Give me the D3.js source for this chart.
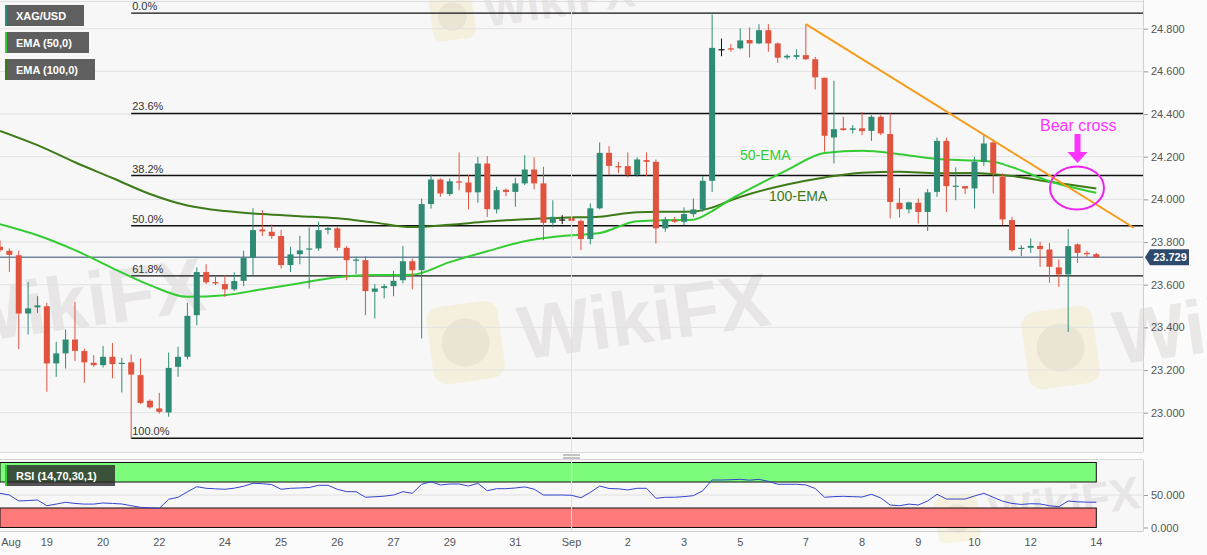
<!DOCTYPE html>
<html>
<head>
<meta charset="utf-8">
<script src="https://cdn.jsdelivr.net/npm/d3@7"></script>
<style>
body { margin: 0; background: #fff; }
svg text { font-family: "Liberation Sans", Arial, sans-serif; }
</style>
</head>
<body>
<svg id="chart" width="1207" height="555"></svg>
<script>
// XAG/USD 4H candles, [open, high, low, close]
const candles = [
	[23.778, 23.808, 23.753, 23.762], [23.759, 23.770, 23.660, 23.740], [23.738, 23.759, 23.298, 23.465],
	[23.465, 23.613, 23.367, 23.489], [23.494, 23.546, 23.468, 23.503], [23.499, 23.515, 23.098, 23.231],
	[23.231, 23.332, 23.168, 23.278], [23.278, 23.390, 23.207, 23.343], [23.343, 23.520, 23.242, 23.290],
	[23.289, 23.301, 23.140, 23.236], [23.234, 23.270, 23.215, 23.223], [23.223, 23.313, 23.212, 23.262],
	[23.262, 23.327, 23.161, 23.228], [23.229, 23.257, 23.095, 23.234], [23.236, 23.273, 22.879, 23.179],
	[23.176, 23.254, 23.040, 23.046], [23.056, 23.062, 23.019, 23.025], [23.020, 23.093, 22.996, 23.004],
	[23.001, 23.282, 22.981, 23.210], [23.215, 23.309, 23.168, 23.262], [23.262, 23.515, 23.250, 23.454],
	[23.457, 23.681, 23.410, 23.659], [23.659, 23.696, 23.603, 23.611], [23.612, 23.642, 23.598, 23.606],
	[23.603, 23.645, 23.543, 23.578], [23.578, 23.658, 23.571, 23.617], [23.618, 23.759, 23.593, 23.725],
	[23.726, 23.958, 23.642, 23.856], [23.859, 23.950, 23.828, 23.850], [23.848, 23.883, 23.815, 23.828],
	[23.828, 23.856, 23.676, 23.692], [23.692, 23.778, 23.660, 23.742], [23.743, 23.829, 23.696, 23.761],
	[23.765, 23.868, 23.582, 23.770], [23.770, 23.895, 23.759, 23.856], [23.857, 23.871, 23.836, 23.865],
	[23.864, 23.871, 23.759, 23.773], [23.773, 23.781, 23.621, 23.715], [23.712, 23.731, 23.650, 23.718],
	[23.715, 23.734, 23.457, 23.570], [23.567, 23.603, 23.442, 23.582], [23.584, 23.603, 23.536, 23.593],
	[23.593, 23.665, 23.546, 23.618], [23.621, 23.782, 23.606, 23.710], [23.710, 23.723, 23.578, 23.668],
	[23.668, 24.004, 23.348, 23.978], [23.978, 24.118, 23.957, 24.093], [24.093, 24.098, 24.012, 24.028],
	[24.025, 24.098, 24.015, 24.085], [24.084, 24.220, 24.043, 24.079], [24.079, 24.114, 23.953, 24.033],
	[24.033, 24.199, 23.984, 24.168], [24.168, 24.203, 23.918, 23.954], [23.953, 24.059, 23.934, 24.043],
	[24.045, 24.051, 24.015, 24.035], [24.035, 24.101, 23.965, 24.075], [24.075, 24.207, 24.067, 24.140],
	[24.140, 24.197, 24.047, 24.075], [24.075, 24.153, 23.809, 23.890], [23.890, 23.996, 23.868, 23.918],
	[23.906, 23.926, 23.884, 23.906], [23.913, 23.918, 23.817, 23.899], [23.899, 23.906, 23.762, 23.814],
	[23.814, 23.981, 23.789, 23.958], [23.958, 24.267, 23.953, 24.218], [24.218, 24.250, 24.114, 24.157],
	[24.156, 24.176, 24.124, 24.150], [24.156, 24.220, 24.103, 24.114], [24.114, 24.197, 24.106, 24.187],
	[24.184, 24.220, 24.109, 24.176], [24.176, 24.187, 23.793, 23.864], [23.864, 23.918, 23.848, 23.906],
	[23.903, 23.918, 23.890, 23.895], [23.895, 23.962, 23.879, 23.931], [23.931, 24.004, 23.918, 23.953],
	[23.953, 24.109, 23.942, 24.087], [24.087, 24.867, 24.035, 24.710], [24.704, 24.754, 24.671, 24.704],
	[24.708, 24.728, 24.692, 24.703], [24.708, 24.801, 24.703, 24.745], [24.747, 24.806, 24.665, 24.731],
	[24.731, 24.821, 24.728, 24.793], [24.793, 24.821, 24.692, 24.731], [24.731, 24.736, 24.640, 24.664],
	[24.665, 24.681, 24.657, 24.673], [24.668, 24.703, 24.656, 24.676], [24.676, 24.821, 24.653, 24.657],
	[24.657, 24.668, 24.515, 24.572], [24.570, 24.570, 24.223, 24.298], [24.290, 24.556, 24.168, 24.329],
	[24.333, 24.387, 24.321, 24.325], [24.326, 24.348, 24.309, 24.333], [24.333, 24.410, 24.301, 24.320],
	[24.321, 24.395, 24.274, 24.387], [24.387, 24.395, 24.301, 24.309], [24.306, 24.403, 23.911, 23.988],
	[23.984, 24.054, 23.915, 23.954], [23.953, 23.989, 23.934, 23.986], [23.984, 24.004, 23.887, 23.941],
	[23.941, 24.048, 23.852, 24.033], [24.035, 24.290, 24.012, 24.274], [24.274, 24.290, 23.941, 24.062],
	[24.062, 24.150, 23.996, 24.064], [24.062, 24.062, 24.025, 24.051], [24.051, 24.199, 23.957, 24.176],
	[24.176, 24.301, 24.156, 24.262], [24.267, 24.281, 24.028, 24.122], [24.106, 24.122, 23.879, 23.906],
	[23.903, 23.918, 23.754, 23.762], [23.768, 23.785, 23.734, 23.773], [23.773, 23.817, 23.749, 23.782],
	[23.782, 23.801, 23.684, 23.767], [23.765, 23.796, 23.609, 23.684], [23.681, 23.718, 23.590, 23.648],
	[23.648, 23.861, 23.379, 23.781], [23.789, 23.793, 23.702, 23.749], [23.749, 23.759, 23.731, 23.743],
	[23.743, 23.749, 23.725, 23.729]
];

// EMA readings, [candle index, value]
const ema50 = [
	[0, 23.884], [4, 23.832], [8, 23.762], [12, 23.678], [16, 23.598], [20, 23.543], [24, 23.551],
	[28, 23.579], [32, 23.607], [36, 23.635], [40, 23.645], [44, 23.647], [48, 23.706], [52, 23.757],
	[56, 23.804], [60, 23.828], [64, 23.842], [68, 23.898], [72, 23.903], [74, 23.905], [76, 23.945],
	[78, 24.001], [80, 24.048], [84, 24.137], [88, 24.217], [92, 24.228], [96, 24.212], [100, 24.189],
	[104, 24.182], [106, 24.176], [108, 24.151], [112, 24.085], [117, 24.031]
];
const ema100 = [
	[0, 24.321], [4, 24.254], [8, 24.174], [12, 24.100], [16, 24.025], [20, 23.971], [24, 23.945],
	[28, 23.931], [32, 23.921], [36, 23.911], [40, 23.891], [44, 23.870], [48, 23.881], [52, 23.896],
	[56, 23.907], [60, 23.914], [64, 23.919], [68, 23.940], [72, 23.942], [74, 23.943], [76, 23.962],
	[78, 23.996], [80, 24.025], [84, 24.070], [88, 24.103], [92, 24.125], [96, 24.130], [100, 24.123],
	[104, 24.124], [108, 24.109], [112, 24.083], [117, 24.051]
];

// RSI(14) per candle
const rsi = [
	52.6, 50, 40.8, 41.5, 42.3, 33.5, 36, 38.8, 37, 36, 36, 37.7, 37, 36.2, 33.5, 31, 30.2, 29.5,
	43.4, 46.5, 55, 62.8, 60.3, 59.5, 58.8, 60.5, 63.5, 68, 67.5, 66, 58.8, 60.3, 60.8, 61.5, 64.9, 64.9,
	58.8, 55.1, 55.1, 46.5, 47.3, 48.2, 50, 55.1, 52.6, 66.5, 70.5, 65.4, 66.9, 66.9, 63.8, 68, 56.6, 59.7,
	59.7, 60.8, 62.5, 59, 50, 50, 50, 49.5, 45.8, 54, 63.8, 60, 59.5, 57.8, 60.3, 60.3, 44.9, 46.5,
	46.5, 47.5, 49, 56.6, 73.1, 73.1, 73.5, 74.1, 72.8, 74.1, 71, 66.5, 66.5, 66.5, 65.5, 60, 46.5, 47.5,
	48, 47.5, 46.9, 51.1, 45.5, 34.6, 33.5, 36, 34.6, 40.8, 51.1, 43.8, 43.8, 43.8, 48.5, 52.6, 46.5, 40.5,
	37, 35.5, 36.6, 36.2, 33.5, 32, 40.8, 39.5, 39, 38.8
];

const fibHigh = 24.873;
const fibLow = 22.880;
const fibStartIndex = 14;
const fibRatios = [0, 0.236, 0.382, 0.5, 0.618, 1];
const fibLabels = ['0.0%', '23.6%', '38.2%', '50.0%', '61.8%', '100.0%'];
const lastPrice = 23.729;
const trendLine = [[86, 24.821], [121, 23.867]];
const priceTicks = [23.0, 23.2, 23.4, 23.6, 23.8, 24.0, 24.2, 24.4, 24.6, 24.8];
const rsiTicks = [0, 50];
const dayTicks = [
	[-1, 'Aug'], [5, '19'], [11, '20'], [17, '22'], [24, '24'], [30, '25'], [36, '26'], [42, '27'],
	[48, '29'], [55, '31'], [61, 'Sep'], [67, '2'], [73, '3'], [79, '5'], [86, '7'], [92, '8'],
	[98, '9'], [104, '10'], [110, '12'], [117, '14']
];
const monthStart = 61;
const legendItems = [
	{ label: 'XAG/USD', color: '#2e8b7a', w: 79 },
	{ label: 'EMA (50,0)', color: '#33cc33', w: 84 },
	{ label: 'EMA (100,0)', color: '#3d7a18', w: 90 }
];

// layout
const W = 1207;
const axisX = 1143;
const mainTop = 0, mainBottom = 452;
const rsiTop = 460, rsiBottom = 531;
const upColor = '#2f8b74';
const downColor = '#e0533f';

const svg = d3.select('#chart');

const x = d3.scaleLinear().domain([0, candles.length - 1]).range([0, 1096.3]);
const y = d3.scaleLinear().domain([23, 24.8]).range([412.7, 28.7]);
const yR = d3.scaleLinear().domain([0, 100]).range([527.5, 462.5]);

// backgrounds
svg.append('rect').attr('width', W).attr('height', 555).attr('fill', '#fbfbfb');
svg.append('rect').attr('x', 0).attr('y', mainTop).attr('width', axisX).attr('height', mainBottom - mainTop).attr('fill', '#f7f7f7');
svg.append('rect').attr('x', 0).attr('y', rsiTop).attr('width', axisX).attr('height', rsiBottom - rsiTop).attr('fill', '#f7f7f7');

svg.append('clipPath').attr('id', 'clipMain').append('rect').attr('width', axisX).attr('height', mainBottom);
svg.append('clipPath').attr('id', 'clipRsi').append('rect').attr('y', rsiTop).attr('width', axisX).attr('height', rsiBottom - rsiTop);

// watermarks
const marks = [
	{ x: 470, y: 345, s: 1 },
	{ x: 1065, y: 350, s: 1 },
	{ x: -95, y: 330, s: 1 },
	{ x: 455, y: 18, s: 0.6 },
	{ x: 960, y: 520, s: 0.6 }
];
const wm = svg.append('g').attr('clip-path', 'url(#clipAll)');
marks.forEach((m) => {
	const g = wm.append('g').attr('transform', `translate(${m.x},${m.y}) rotate(-8) scale(${m.s})`);
	g.append('rect').attr('x', -40).attr('y', -42).attr('width', 72).attr('height', 78).attr('rx', 14)
		.attr('fill', '#f3d98a').attr('opacity', 0.22);
	g.append('circle').attr('cx', -4).attr('cy', -3).attr('r', 24).attr('fill', '#bdb6b0').attr('opacity', 0.2);
	g.append('text').attr('x', 50).attr('y', 22).attr('font-size', 76).attr('font-weight', 'bold')
		.attr('fill', '#cfc8c8').attr('opacity', 0.38).text('WikiFX');
});

// grid
const mainG = svg.append('g').attr('clip-path', 'url(#clipMain)');
mainG.selectAll('.grid').data(priceTicks).enter().append('line')
	.attr('x1', 0).attr('x2', axisX).attr('y1', (d) => y(d)).attr('y2', (d) => y(d))
	.attr('stroke', '#e2e2e2').attr('stroke-width', 1);
svg.append('line').attr('x1', x(monthStart)).attr('x2', x(monthStart)).attr('y1', 0).attr('y2', mainBottom)
	.attr('stroke', '#e0e0e0');
svg.append('line').attr('x1', 0).attr('x2', axisX).attr('y1', 1.5).attr('y2', 1.5).attr('stroke', '#dedede');

// fibonacci retracement
const fibs = fibRatios.map((r, i) => ({ v: fibHigh - r * (fibHigh - fibLow), label: fibLabels[i] }));
mainG.selectAll('.fib').data(fibs).enter().append('line')
	.attr('x1', x(fibStartIndex)).attr('x2', axisX).attr('y1', (d) => y(d.v)).attr('y2', (d) => y(d.v))
	.attr('stroke', '#111').attr('stroke-width', 1.4);
mainG.selectAll('.fibText').data(fibs).enter().append('text')
	.attr('x', x(fibStartIndex) + 1).attr('y', (d) => y(d.v) - 3)
	.attr('font-size', 11).attr('fill', '#333').text((d) => d.label);

// last price line
mainG.append('line').attr('x1', 0).attr('x2', axisX).attr('y1', y(lastPrice)).attr('y2', y(lastPrice))
	.attr('stroke', '#2d4a6e').attr('stroke-width', 1);

// EMAs
const emaLine = d3.line().x((d) => x(d[0])).y((d) => y(d[1])).curve(d3.curveMonotoneX);
mainG.append('path').datum(ema100).attr('d', emaLine).attr('fill', 'none')
	.attr('stroke', '#3d7a18').attr('stroke-width', 2);
mainG.append('path').datum(ema50).attr('d', emaLine).attr('fill', 'none')
	.attr('stroke', '#33cc33').attr('stroke-width', 2);

// candles
const candleColor = (d) => (d[0] === d[3] ? '#111' : d[3] > d[0] ? upColor : downColor);
const cg = mainG.selectAll('.candle').data(candles).enter().append('g');
cg.append('line')
	.attr('x1', (d, i) => x(i)).attr('x2', (d, i) => x(i))
	.attr('y1', (d) => y(d[1])).attr('y2', (d) => y(d[2]))
	.attr('stroke', candleColor).attr('stroke-width', 1);
cg.append('rect')
	.attr('x', (d, i) => x(i) - 3).attr('width', 6)
	.attr('y', (d) => y(Math.max(d[0], d[3])))
	.attr('height', (d) => Math.max(1.2, Math.abs(y(d[0]) - y(d[3]))))
	.attr('fill', candleColor);

// trendline
mainG.append('line')
	.attr('x1', x(trendLine[0][0])).attr('y1', y(trendLine[0][1]))
	.attr('x2', x(trendLine[1][0])).attr('y2', y(trendLine[1][1]))
	.attr('stroke', '#f59b1b').attr('stroke-width', 2);

// annotations
svg.append('text').attr('x', 740).attr('y', 160).attr('font-size', 14).attr('fill', '#33cc33').text('50-EMA');
svg.append('text').attr('x', 769).attr('y', 201).attr('font-size', 14).attr('fill', '#3d7a18').text('100-EMA');
svg.append('text').attr('x', 1040).attr('y', 131).attr('font-size', 16).attr('fill', '#ff33ff').text('Bear cross');
svg.append('rect').attr('x', 1074.5).attr('y', 134).attr('width', 6).attr('height', 19).attr('fill', '#ff33ff');
svg.append('path').attr('d', 'M1067.5,152 L1087.5,152 L1077.5,163 Z').attr('fill', '#ff33ff');
svg.append('ellipse').attr('cx', 1077).attr('cy', 188).attr('rx', 27).attr('ry', 21.5)
	.attr('fill', 'none').attr('stroke', '#ee22ee').attr('stroke-width', 2);

// price axis
const axisColor = '#cfcfcf';
const yAxis = svg.append('g').attr('transform', `translate(${axisX},0)`)
	.call(d3.axisRight(y).tickValues(priceTicks).tickFormat(d3.format('.3f')).tickSize(5).tickPadding(3));
yAxis.select('.domain').remove();
yAxis.selectAll('line').attr('stroke', '#999');
yAxis.selectAll('text').attr('font-size', 11).attr('fill', '#555').style('font-family', '"Liberation Sans", Arial, sans-serif');
svg.append('line').attr('x1', axisX + 0.5).attr('x2', axisX + 0.5).attr('y1', 0).attr('y2', mainBottom).attr('stroke', axisColor);

// last price tag
const tagY = y(lastPrice);
svg.append('path')
	.attr('d', `M${axisX + 2},${tagY} L${axisX + 7},${tagY - 8} L${axisX + 46},${tagY - 8} L${axisX + 46},${tagY + 8} L${axisX + 7},${tagY + 8} Z`)
	.attr('fill', '#2d4a6e');
svg.append('text').attr('x', axisX + 27).attr('y', tagY + 4).attr('text-anchor', 'middle')
	.attr('font-size', 11).attr('font-weight', 'bold').attr('fill', '#fff').text(d3.format('.3f')(lastPrice));

// legends
legendItems.forEach((d, i) => {
	const ly = 5 + i * 27;
	svg.append('rect').attr('x', 5).attr('y', ly).attr('width', d.w).attr('height', 21).attr('fill', '#5f5f5f');
	svg.append('rect').attr('x', 5).attr('y', ly).attr('width', 2).attr('height', 21).attr('fill', d.color);
	svg.append('text').attr('x', 16).attr('y', ly + 15).attr('font-size', 11).attr('font-weight', 'bold')
		.attr('fill', '#fff').text(d.label);
});

// panel separator
svg.append('line').attr('x1', 0).attr('x2', axisX).attr('y1', mainBottom + 0.5).attr('y2', mainBottom + 0.5).attr('stroke', '#d8d8d8');
svg.append('line').attr('x1', 0).attr('x2', axisX).attr('y1', rsiTop - 0.5).attr('y2', rsiTop - 0.5).attr('stroke', '#d8d8d8');
[455, 458].forEach((hy) => {
	svg.append('line').attr('x1', 563).attr('x2', 580).attr('y1', hy).attr('y2', hy).attr('stroke', '#8a8a8a');
});

// RSI panel
const rsiG = svg.append('g').attr('clip-path', 'url(#clipRsi)');
const last = candles.length - 1;
rsiG.append('rect').attr('x', 0).attr('width', x(last)).attr('y', yR(100)).attr('height', yR(70) - yR(100))
	.attr('fill', '#7dfb7d').attr('stroke', '#111').attr('stroke-width', 1);
rsiG.append('rect').attr('x', 0).attr('width', x(last)).attr('y', yR(30)).attr('height', yR(0) - yR(30))
	.attr('fill', '#ff7b7b').attr('stroke', '#111').attr('stroke-width', 1);
rsiG.append('line').attr('x1', 0).attr('x2', axisX).attr('y1', yR(50)).attr('y2', yR(50)).attr('stroke', '#e0e0e0');
rsiG.append('line').attr('x1', x(monthStart)).attr('x2', x(monthStart)).attr('y1', rsiTop).attr('y2', rsiBottom).attr('stroke', '#e0e0e0');
rsiG.append('path').datum(rsi)
	.attr('d', d3.line().x((d, i) => x(i)).y((d) => yR(d)))
	.attr('fill', 'none').attr('stroke', '#3344cc').attr('stroke-width', 1);

svg.append('rect').attr('x', 5).attr('y', 465).attr('width', 110).attr('height', 21).attr('fill', 'rgba(40,40,40,0.8)');
svg.append('rect').attr('x', 5).attr('y', 465).attr('width', 2).attr('height', 21).attr('fill', '#33cc33');
svg.append('text').attr('x', 16).attr('y', 480).attr('font-size', 11).attr('font-weight', 'bold').attr('fill', '#fff')
	.text('RSI (14,70,30,1)');

const rAxis = svg.append('g').attr('transform', `translate(${axisX},0)`)
	.call(d3.axisRight(yR).tickValues(rsiTicks).tickFormat(d3.format('.3f')).tickSize(5).tickPadding(3));
rAxis.select('.domain').remove();
rAxis.selectAll('line').attr('stroke', '#999');
rAxis.selectAll('text').attr('font-size', 11).attr('fill', '#555').style('font-family', '"Liberation Sans", Arial, sans-serif');
svg.append('line').attr('x1', axisX + 0.5).attr('x2', axisX + 0.5).attr('y1', rsiTop).attr('y2', rsiBottom).attr('stroke', axisColor);
svg.append('line').attr('x1', 0).attr('x2', axisX + 0.5).attr('y1', rsiBottom + 0.5).attr('y2', rsiBottom + 0.5).attr('stroke', axisColor);

// time axis
svg.selectAll('.dayTick').data(dayTicks).enter().append('text')
	.attr('x', (d) => Math.max(11, x(d[0])))
	.attr('y', 546)
	.attr('text-anchor', 'middle')
	.attr('font-size', 11)
	.attr('fill', '#555')
	.text((d) => d[1]);
</script>
</body>
</html>
